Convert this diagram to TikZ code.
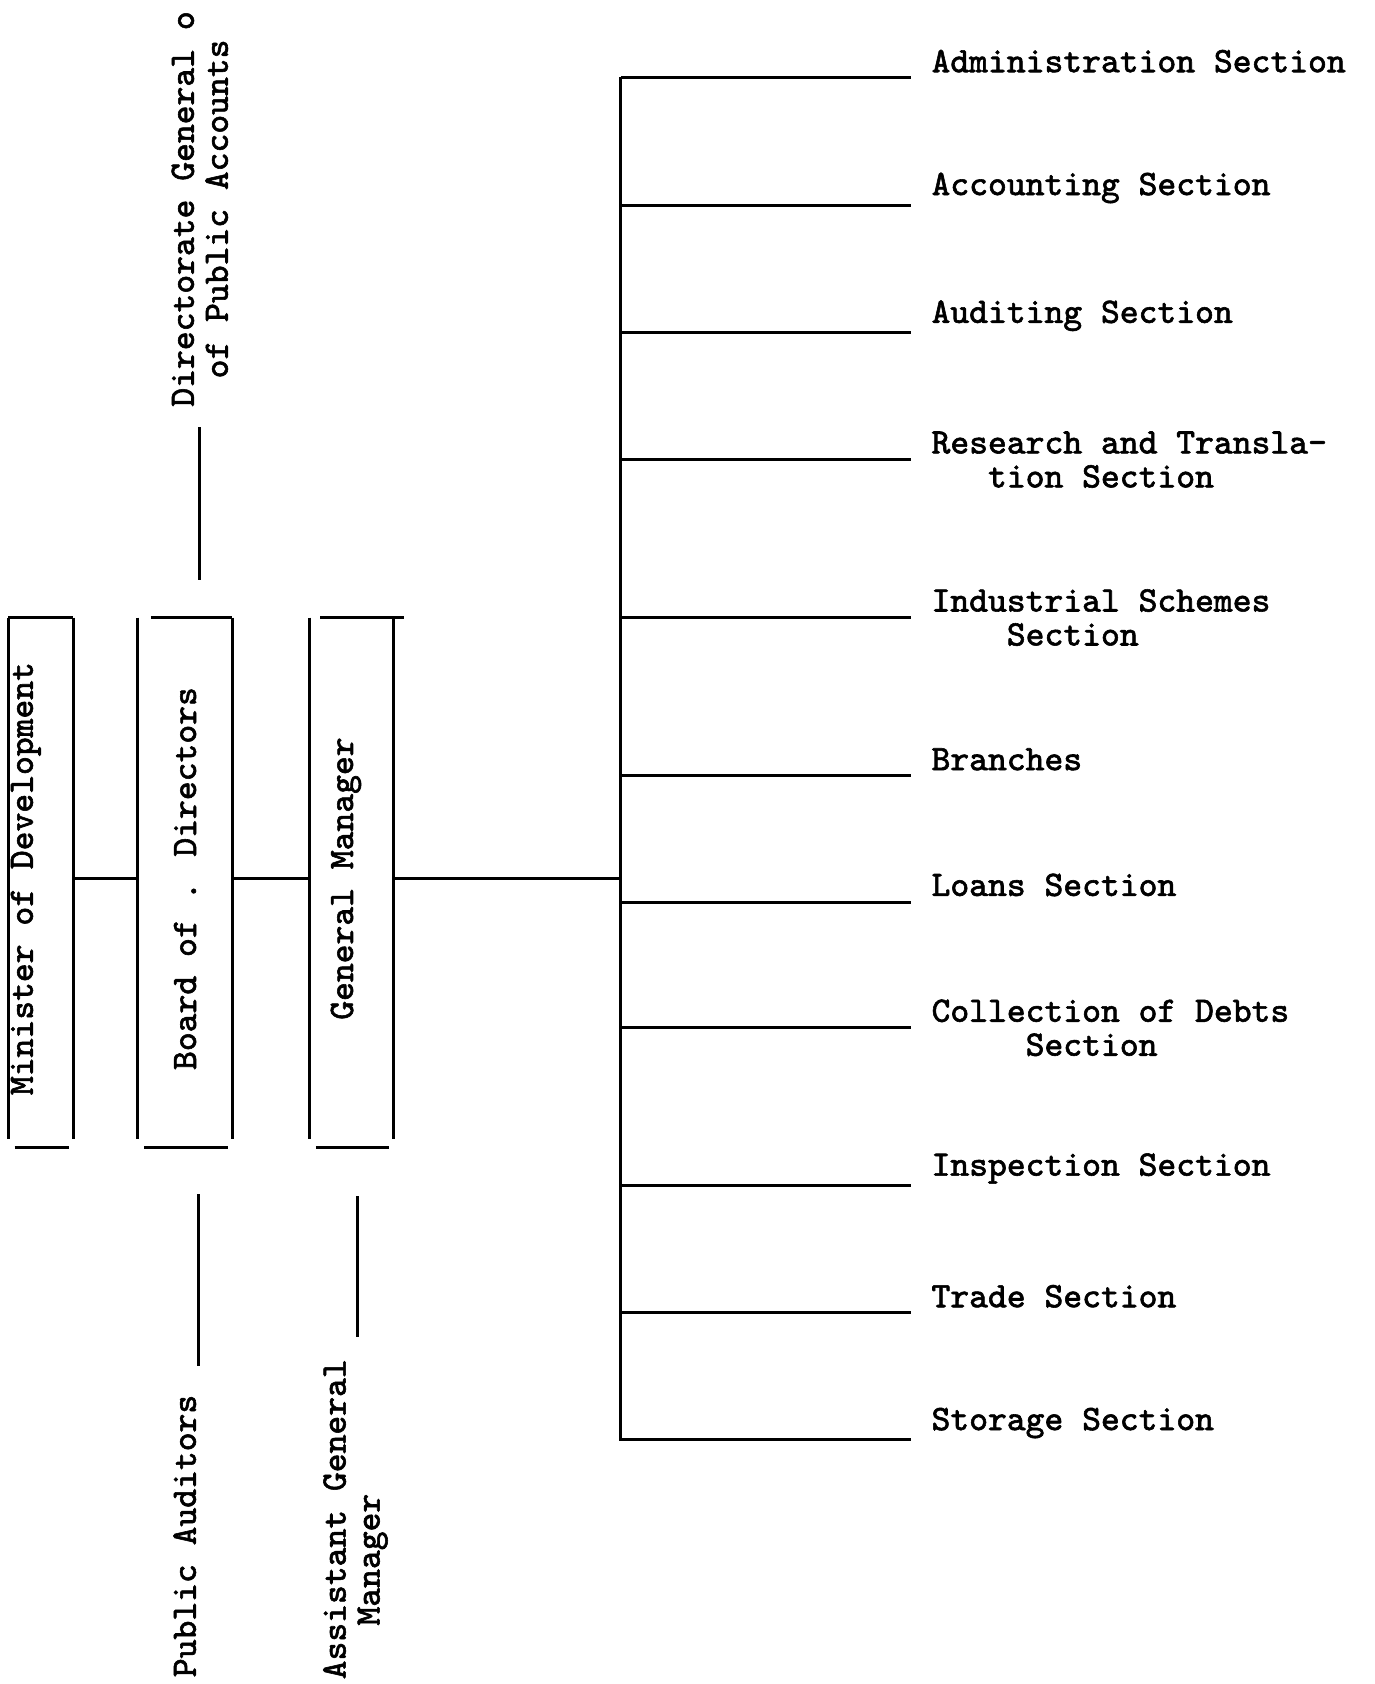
\documentclass[tikz,border=0pt]{standalone}
\usepackage{fontspec}
\newfontfamily\typefont{Latin Modern Mono}[FakeBold=1.6]
\usetikzlibrary{positioning}

\begin{document}
\begin{tikzpicture}[x=0.1mm, y=-0.1mm, line width=0.28mm,
              font = \typefont\fontsize{9.5}{9}\selectfont,
     office/.style = {minimum width=#1, minimum height=48.3mm,
                      inner sep=0pt},
       dept/.style = {anchor=west, inner sep=0pt, align=left},
     vlabel/.style = {rotate=90, anchor=west, inner sep=0pt}
                    ]
\useasboundingbox (0,0) rectangle (1280,1568);
% Draw the three offices
\node[office=5.8mm] (min) at (38,818)
      {\rotatebox{90}{Minister of Development}\hspace*{2.8mm}};
\node[office=8.5mm, right=6mm of min]   (board)
      {\rotatebox{90}{Board of . Directors}};
\node[office=7.5mm, right=7.2mm of board] (gm)
      {\rotatebox{90}{General Manager}\hspace*{1mm}};
\foreach \b/\l/\r in {min/0/0,board/1.2/0,gm/1/1}
    \draw (\b.north west) -- (\b.south west)
          (\b.north east) -- (\b.south east)
          ([xshift=\l mm]\b.north west) -- ([xshift=\r mm]\b.north east)
          ([xshift=0.6mm,yshift=-0.8mm]\b.south west)
              -- ([xshift=-0.4mm,yshift=-0.8mm]\b.south east);
% Side offices above and below
\node[vlabel, align=center] (dgpa) at (186,380)
      {Directorate General o\\of Public Accounts};
\node[vlabel] (pa)  at (172,1563) {Public Auditors};
\node[vlabel, align=left] (agm) at (331,1565)
      {Assistant General\\\hspace*{1.5em}Manager};
\coordinate (dgpa-foot) at (186,540);
\coordinate (pa-top)    at (185,1112);
\coordinate (agm-top)   at (333,1114);
\draw[shorten >=1.8mm] (dgpa-foot) -- (dgpa.west);
\draw[shorten >=2.5mm] (pa-top) -- (pa-top |- pa.east);
\draw[shorten >=1.9mm] (agm-top) -- (agm-top |- agm.east);
% Connect the offices with the bus
\coordinate (bus-top) at (578,72);
\coordinate (bus-bot) at (578,1342);
\coordinate (hub)     at (578,818);
\draw (min) -- (board);
\draw (board) -- (gm);
\draw (gm) -- (hub);
\draw (bus-top) -- (bus-bot);
% Draw the sections
\foreach \y/\dy/\txt [count=\i] in {
     72/-15/Administration Section,
    191/-16/Accounting Section,
    310/-16/Auditing Section,
    428/0/{Research and Transla-\\\hspace*{1.575em}tion Section},
    575/0/{Industrial Schemes\\\hspace*{2.1em}Section},
    722/-15/Branches,
    840/-16/Loans Section,
    957/0/{Collection of Debts\\\hspace*{2.625em}Section},
   1104/-16/Inspection Section,
   1222/-15/Trade Section,
   1340/-15/Storage Section}
{
    \coordinate (b-\i) at (578,\y);
    \node[dept] (s-\i) at (866,\y+\dy) {\txt};
    \draw[shorten >=1.8mm] (b-\i) -- (b-\i -| s-\i.west);
}
\end{tikzpicture}
\end{document}
